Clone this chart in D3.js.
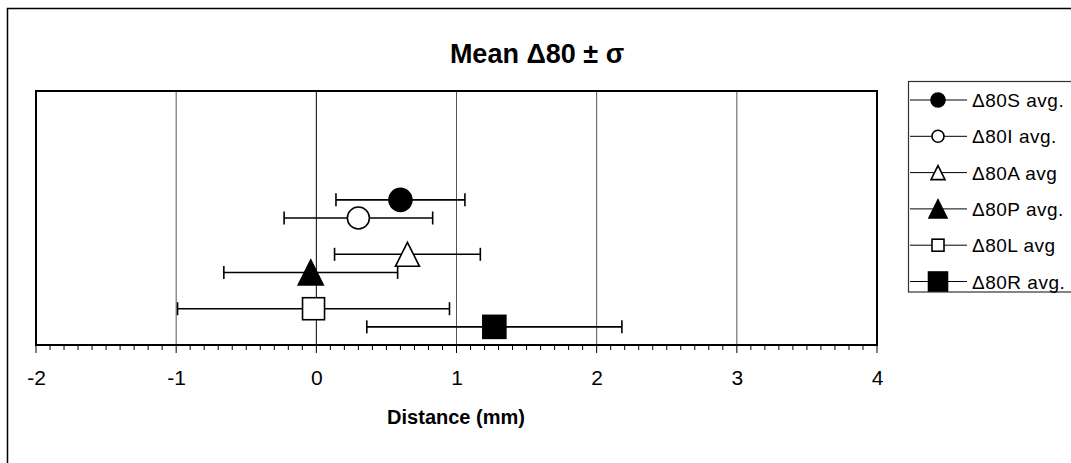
<!DOCTYPE html>
<html><head><meta charset="utf-8">
<script src="https://cdn.jsdelivr.net/npm/d3@7"></script>
<style>body{margin:0;background:#fff}svg{display:block}text{font-family:Arial,"Liberation Sans",sans-serif}</style>
</head><body><svg id="c" width="1071" height="463"></svg>
<script>
const seriesNames = ["Δ80S avg.", "Δ80I avg.", "Δ80A avg", "Δ80P avg.", "Δ80L avg", "Δ80R avg."];
const means = [0.60, 0.30, 0.65, -0.04, -0.02, 1.27];
const sigmas = [0.46, 0.53, 0.52, 0.62, 0.97, 0.91];
const yPos = [4, 3.5, 2.5, 2, 1, 0.5];
const markers = ["circleFilled", "circleOpen", "triangleOpen", "triangleFilled", "squareOpen", "squareFilled"];
const xTicks = [-2, -1, 0, 1, 2, 3, 4];

const svg = d3.select("#c");
const L = 36, R = 877, T = 91, B = 345;
const x = d3.scaleLinear().domain([-2, 4]).range([L, R]);
const y = d3.scaleLinear().domain([0, 7]).range([B, T]);

// outer chart border
svg.append("rect").attr("x", 7.5).attr("y", 8.5).attr("width", 1080).attr("height", 480)
  .attr("fill", "none").attr("stroke", "#000").attr("stroke-width", 1.5);

// title
svg.append("text").attr("x", 537).attr("y", 63).attr("text-anchor", "middle")
  .attr("font-weight", "bold").attr("font-size", 27).text("Mean Δ80 ± σ");

// gridlines
svg.append("g").selectAll("line").data(xTicks.filter(d => d > -2 && d < 4)).join("line")
  .attr("x1", d => x(d)).attr("x2", d => x(d)).attr("y1", T).attr("y2", B)
  .attr("stroke", d => d === 0 ? "#000" : "#555").attr("stroke-width", 1);

// plot border
svg.append("rect").attr("x", L).attr("y", T).attr("width", R - L).attr("height", B - T)
  .attr("fill", "none").attr("stroke", "#000").attr("stroke-width", 2);

// x axis minor ticks
const minor = d3.range(-20, 41).map(i => i / 10);
svg.append("g").selectAll("line").data(minor).join("line")
  .attr("x1", d => x(d)).attr("x2", d => x(d)).attr("y1", B).attr("y2", d => Math.abs(d - Math.round(d)) < 1e-9 ? B + 8 : B + 5)
  .attr("stroke", "#000").attr("stroke-width", 1);

const xAxis = d3.axisBottom(x).tickValues(xTicks).tickSize(0).tickPadding(0).tickFormat(d3.format("d"));
const gx = svg.append("g").attr("transform", `translate(0,${B})`).call(xAxis);
gx.select(".domain").remove();
gx.selectAll("text").attr("font-size", 21).attr("fill", "#000").attr("dy", null).attr("y", 40)
  .text(d => d < 0 ? "-" + Math.abs(d) : d);

svg.append("text").attr("x", 456).attr("y", 424).attr("text-anchor", "middle")
  .attr("font-weight", "bold").attr("font-size", 20).text("Distance (mm)");

// error bars
const data = seriesNames.map((n, i) => ({ n, m: means[i], s: sigmas[i], y: yPos[i], k: markers[i] }));
const eb = svg.append("g").attr("stroke", "#000").attr("stroke-width", 1.6);
data.forEach(d => {
  eb.append("line").attr("x1", x(d.m - d.s)).attr("x2", x(d.m + d.s)).attr("y1", y(d.y)).attr("y2", y(d.y));
  [d.m - d.s, d.m + d.s].forEach(v => eb.append("line").attr("x1", x(v)).attr("x2", x(v))
    .attr("y1", y(d.y) - 6.5).attr("y2", y(d.y) + 6.5));
});

function drawMarker(g, kind, cx, cy, s) {
  const filled = kind.endsWith("Filled");
  const fill = filled ? "#000" : "#fff";
  let el;
  if (kind.startsWith("circle")) {
    el = g.append("circle").attr("cx", cx).attr("cy", cy).attr("r", s / 2);
  } else if (kind.startsWith("square")) {
    el = g.append("rect").attr("x", cx - s / 2).attr("y", cy - s / 2).attr("width", s).attr("height", s);
  } else {
    const h = s;
    el = g.append("path").attr("d", `M${cx},${cy - h / 2}L${cx + s / 2},${cy + h / 2}L${cx - s / 2},${cy + h / 2}Z`);
  }
  el.attr("fill", fill).attr("stroke", "#000").attr("stroke-width", 1.6);
}

const mk = svg.append("g");
const sizes = { circleFilled: 23, circleOpen: 22, triangleOpen: 24, triangleFilled: 25, squareOpen: 22, squareFilled: 23 };
data.forEach(d => drawMarker(mk, d.k, x(d.m), y(d.y), sizes[d.k]));

// legend
svg.append("rect").attr("x", 908.5).attr("y", 81.5).attr("width", 200).attr("height", 210.5)
  .attr("fill", "#fff").attr("stroke", "#333").attr("stroke-width", 1.2);
const lsizes = { circleFilled: 14, circleOpen: 12, triangleOpen: 14, triangleFilled: 18, squareOpen: 12, squareFilled: 19 };
data.forEach((d, i) => {
  const cy = 100 + i * 36.3;
  const g = svg.append("g");
  g.append("line").attr("x1", 910).attr("x2", 967).attr("y1", cy).attr("y2", cy).attr("stroke", "#000").attr("stroke-width", 1);
  drawMarker(g, d.k, 938, cy, lsizes[d.k]);
  g.append("text").attr("x", 972).attr("y", cy + 7).attr("font-size", 19).attr("letter-spacing", 0.5).text(d.n);
});
</script></body></html>
